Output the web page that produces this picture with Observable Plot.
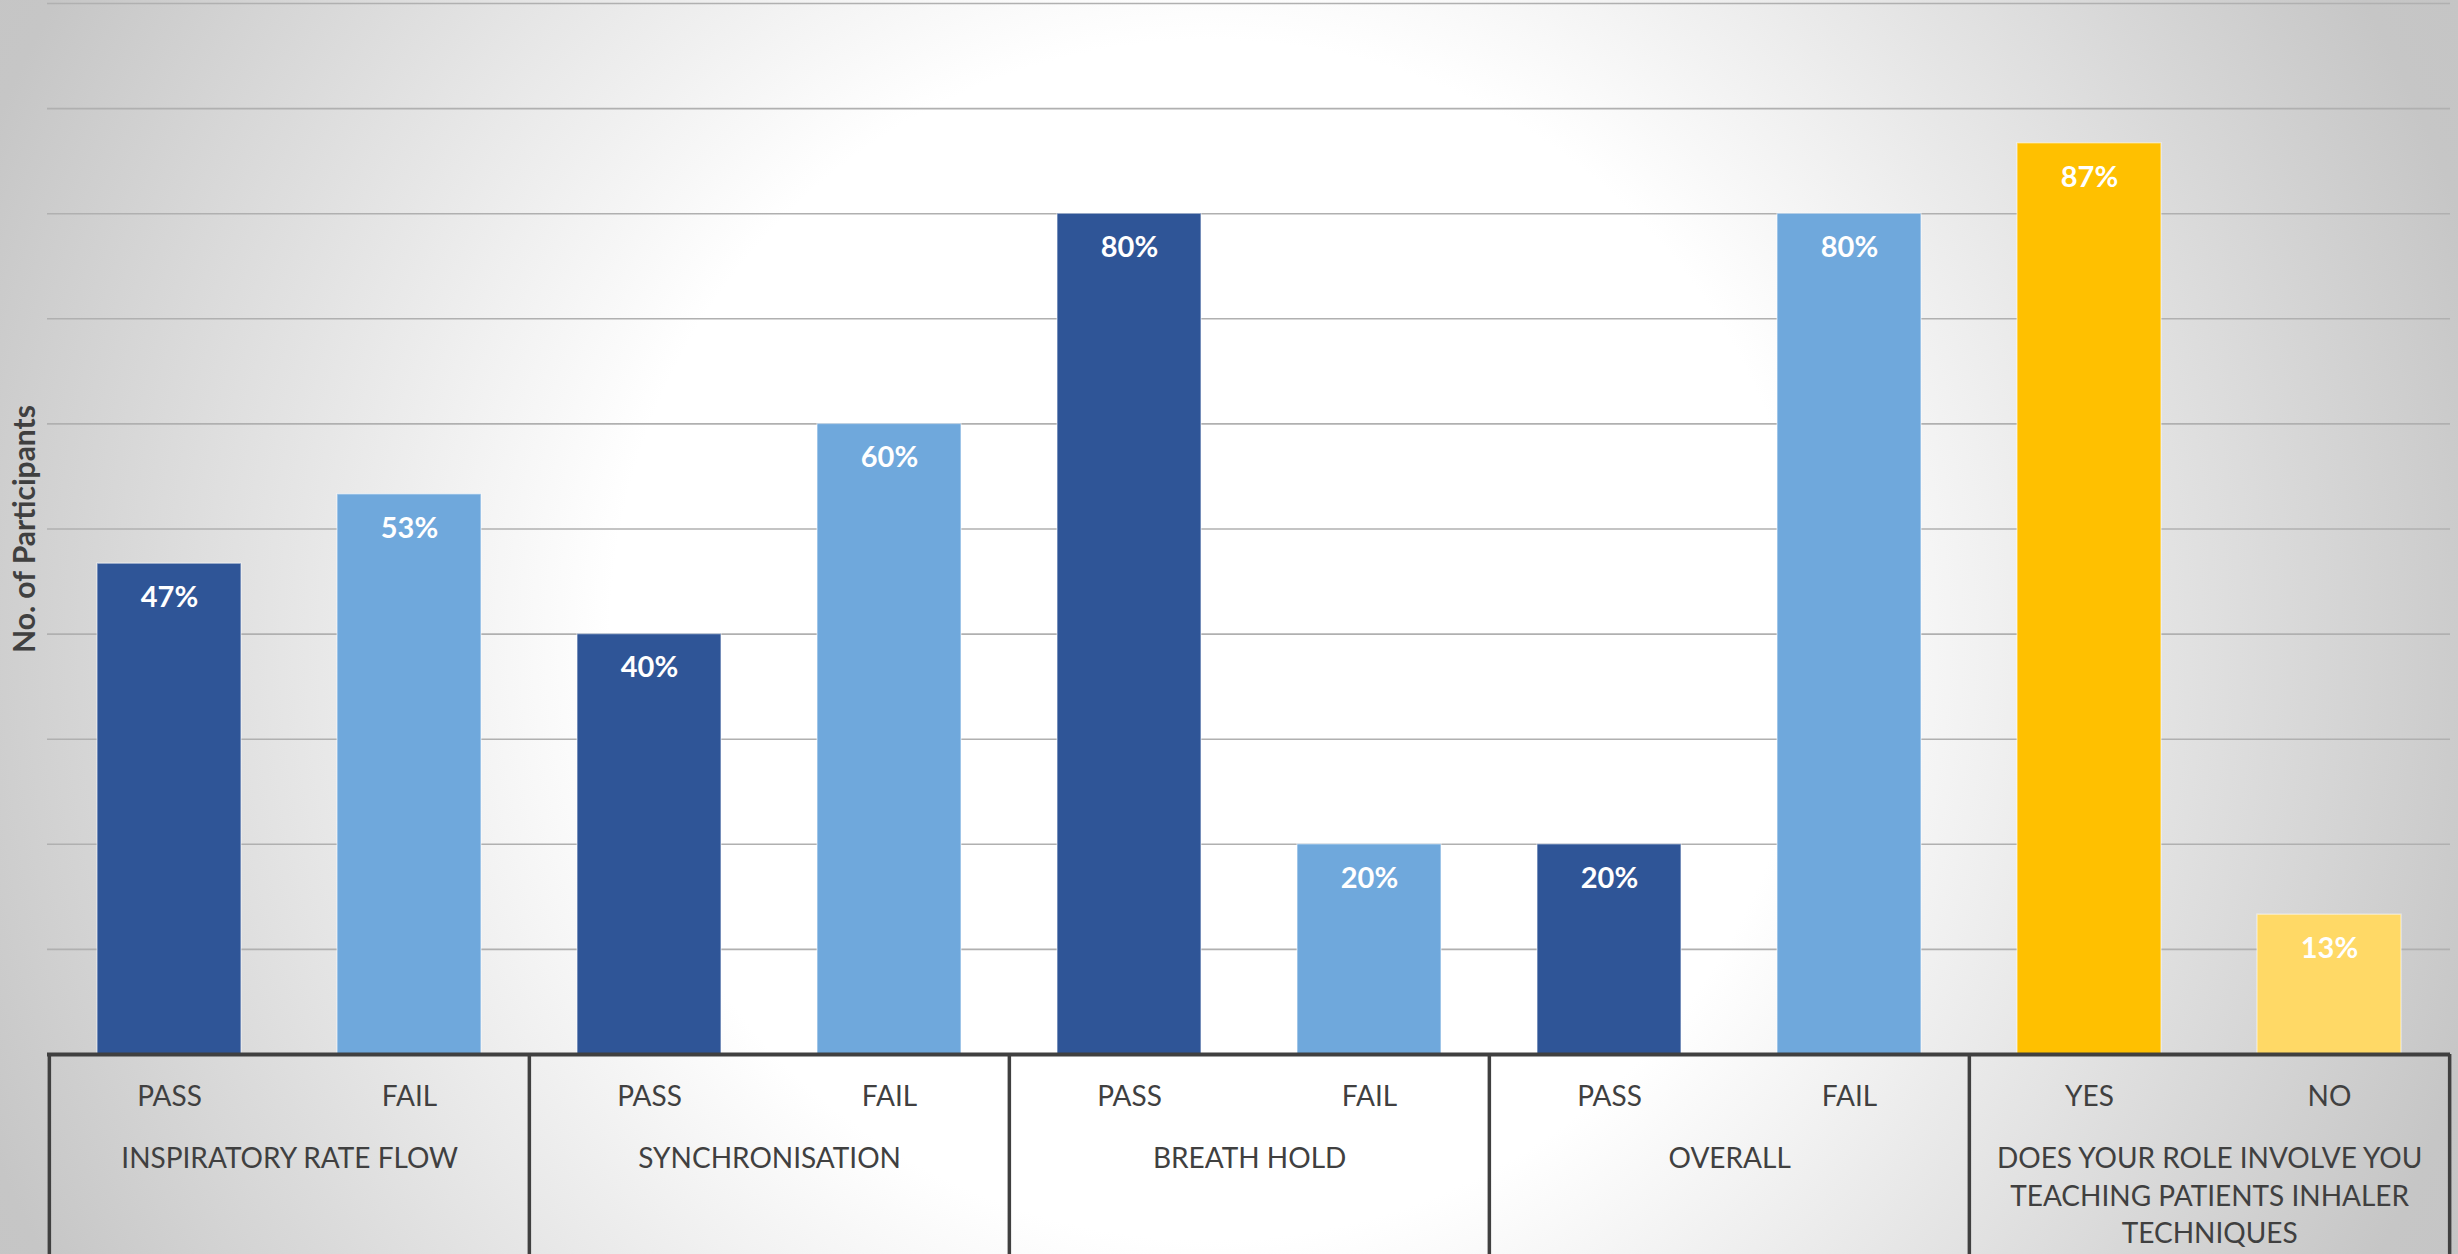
<!DOCTYPE html>
<html>
<head>
<meta charset="utf-8">
<script src="https://cdn.jsdelivr.net/npm/d3@7"></script>
<script src="https://cdn.jsdelivr.net/npm/@observablehq/plot@0.6"></script>
<style>
  html, body { margin: 0; padding: 0; }
  body {
    width: 2458px; height: 1254px; overflow: hidden;
    background: radial-gradient(circle at 1210px 640px, #ffffff 0px, #ffffff 600px, #c6c6c6 1320px, #c4c4c4 1500px);
    font-family: Lato, "Open Sans", sans-serif;
  }
  #chart svg { display: block; }
</style>
</head>
<body>
<div id="chart"></div>
<script>
// ---- data ----
const groups = [
  "INSPIRATORY RATE FLOW",
  "SYNCHRONISATION",
  "BREATH HOLD",
  "OVERALL",
  "DOES YOUR ROLE INVOLVE YOU\nTEACHING PATIENTS INHALER\nTECHNIQUES"
];
const barGroup = [0, 0, 1, 1, 2, 2, 3, 3, 4, 4];
const responses = ["PASS", "FAIL", "PASS", "FAIL", "PASS", "FAIL", "PASS", "FAIL", "YES", "NO"];
const percents = [46.7, 53.3, 40, 60, 80, 20, 20, 80, 86.7, 13.3];
const percentLabels = ["47%", "53%", "40%", "60%", "80%", "20%", "20%", "80%", "87%", "13%"];
const yTitle = "No. of Participants";

// ---- build table ----
const rows = responses.map((r, i) => ({
  key: `b${i}`,
  group: barGroup[i],
  response: r,
  value: percents[i],
  label: percentLabels[i],
  slot: i % 2
}));
const groupRows = groups.map((g, gi) => ({
  name: g,
  first: rows.find(d => d.group === gi).key,
  last: rows.filter(d => d.group === gi).slice(-1)[0].key
}));

const palette = {
  blue: ["#2F5597", "#6FA8DC"],
  gold: ["#FFC000", "#FFD966"]
};
const fillFor = d => (d.group === 4 ? palette.gold : palette.blue)[d.slot];

const W = 2458, H = 1254;
const mL = 47, mR = 8, mT = 3, mB = 200;
const step = (W - mL - mR) / rows.length;
const boxColor = "#404040";
const textColor = "#404040";

const chart = Plot.plot({
  width: W,
  height: H,
  marginLeft: mL,
  marginRight: mR,
  marginTop: mT,
  marginBottom: mB,
  style: { background: "transparent", fontFamily: "Lato, 'Open Sans', sans-serif", overflow: "visible" },
  x: { domain: rows.map(d => d.key), paddingInner: 0.4, paddingOuter: 0.2, axis: null },
  y: { domain: [0, 100], axis: null },
  marks: [
    Plot.ruleY(d3.range(10, 101, 10), { stroke: "#b0b0b0", strokeWidth: 1.6 }),
    Plot.barY(rows, {
      x: "key", y: "value",
      fill: fillFor,
      stroke: "#ffffff", strokeOpacity: 0.45, strokeWidth: 1.5
    }),
    Plot.text(rows, {
      x: "key", y: "value", text: "label",
      dy: 34, fill: "white", fontWeight: "bold", fontSize: 29
    }),
    // axis box
    Plot.ruleY([0], { stroke: boxColor, strokeWidth: 4 }),
    Plot.ruleX(groupRows, { x: "first", y1: 0, y2: -25, dx: -step / 2, stroke: boxColor, strokeWidth: 3.5 }),
    Plot.ruleX(groupRows.slice(-1), { x: "last", y1: 0, y2: -25, dx: step / 2, stroke: boxColor, strokeWidth: 3.5 }),
    // response labels
    Plot.text(rows, {
      x: "key", text: "response", frameAnchor: "bottom",
      dy: 51, fill: textColor, fontSize: 28
    }),
    // group labels
    Plot.text(groupRows, {
      x: "first", text: "name", frameAnchor: "bottom", lineAnchor: "top",
      dx: step / 2, dy: 87, fill: textColor, fontSize: 28, lineHeight: 1.34
    }),
    // y title
    Plot.text([yTitle], {
      text: d => d, frameAnchor: "left", textAnchor: "middle", rotate: -90,
      dx: -22, fill: textColor, fontWeight: "bold", fontSize: 30
    })
  ]
});
document.getElementById("chart").appendChild(chart);
</script>
</body>
</html>
